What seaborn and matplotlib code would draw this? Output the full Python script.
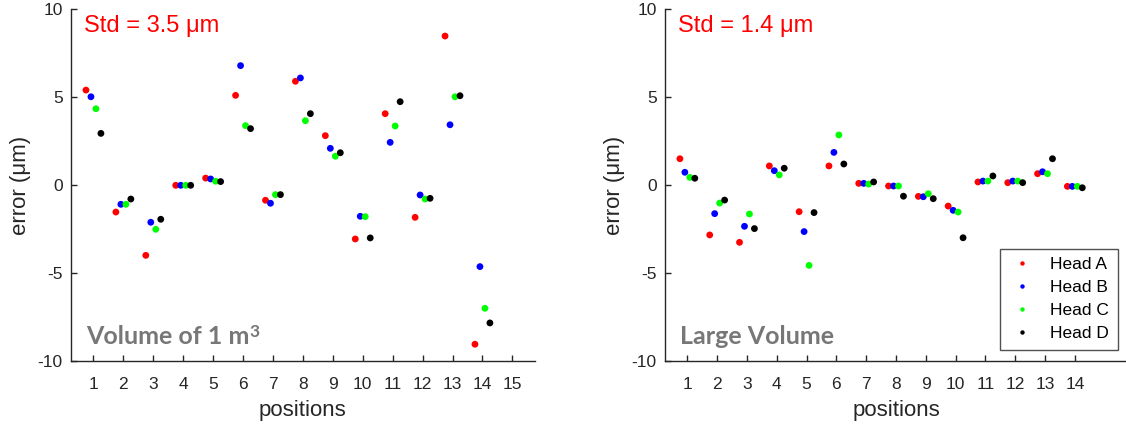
import numpy as np
import pandas as pd
import matplotlib
matplotlib.use("Agg")
import matplotlib.pyplot as plt
import seaborn as sns

# ---------------- data ----------------
heads = ["Head A", "Head B", "Head C", "Head D"]
head_colors = ["#FF0000", "#0000FF", "#00FF00", "#000000"]

positions_left = list(range(1, 15))
left_A = [5.41, -1.52, -3.98, 0.0, 0.41, 5.11, -0.85, 5.91, 2.82, -3.05, 4.07, -1.82, 8.48, -9.03]
left_B = [5.03, -1.08, -2.10, 0.0, 0.36, 6.80, -1.02, 6.10, 2.10, -1.76, 2.44, -0.55, 3.44, -4.62]
left_C = [4.35, -1.08, -2.50, 0.0, 0.23, 3.39, -0.53, 3.67, 1.65, -1.78, 3.37, -0.78, 5.03, -6.99]
left_D = [2.95, -0.78, -1.93, 0.0, 0.21, 3.22, -0.53, 4.07, 1.85, -2.99, 4.75, -0.74, 5.09, -7.82]

positions_right = list(range(1, 15))
right_A = [1.51, -2.82, -3.24, 1.10, -1.50, 1.10, 0.11, -0.04, -0.63, -1.18, 0.19, 0.15, 0.66, -0.06]
right_B = [0.74, -1.61, -2.33, 0.83, -2.63, 1.87, 0.11, -0.04, -0.65, -1.42, 0.24, 0.24, 0.77, -0.06]
right_C = [0.45, -1.01, -1.63, 0.59, -4.55, 2.86, 0.07, -0.04, -0.48, -1.52, 0.24, 0.24, 0.66, -0.06]
right_D = [0.40, -0.84, -2.46, 0.97, -1.55, 1.21, 0.19, -0.62, -0.76, -2.98, 0.53, 0.15, 1.51, -0.14]

left_ticks = list(range(1, 16))
right_ticks = list(range(1, 15))
y_ticks = [-10, -5, 0, 5, 10]

left_std = "Std = 3.5 μm"
right_std = "Std = 1.4 μm"
left_title = ("Volume of 1 m", "3")
right_title = ("Large Volume", "")

# ---------------- layout / style ----------------
dodge = [-0.25, -0.0833, 0.0833, 0.25]
dark = "#262626"
title_gray = "#777777"


def long_frame(pos, series):
    rows = []
    for h, vals, off in zip(heads, series, dodge):
        for p, v in zip(pos, vals):
            rows.append({"pos": p + off, "error": v, "head": h})
    return pd.DataFrame(rows)


sns.set_theme(style="white")
plt.rcParams["font.family"] = ["Liberation Sans", "DejaVu Sans"]
plt.rcParams["axes.edgecolor"] = dark
plt.rcParams["axes.linewidth"] = 1.0

fig = plt.figure(figsize=(11.26, 4.28), dpi=100)
axL = fig.add_axes([71 / 1126, 1 - 361.3 / 428, 463.8 / 1126, 352 / 428])
axR = fig.add_axes([665 / 1126, 1 - 361.3 / 428, 462 / 1126, 352 / 428])

df_left = long_frame(positions_left, [left_A, left_B, left_C, left_D])
df_right = long_frame(positions_right, [right_A, right_B, right_C, right_D])

for ax, df, ticks, std, title in [
    (axL, df_left, left_ticks, left_std, left_title),
    (axR, df_right, right_ticks, right_std, right_title),
]:
    sns.scatterplot(data=df, x="pos", y="error", hue="head", hue_order=heads,
                    palette=head_colors, s=24, linewidth=0, ax=ax,
                    legend=(ax is axR))
    ax.set_xlim(0.25, 15.75)
    ax.set_ylim(-10, 10)
    ax.set_xticks(ticks)
    ax.set_yticks(y_ticks)
    ax.set_xticklabels([str(t) for t in ticks])
    ax.set_yticklabels([str(t) for t in y_ticks])
    ax.tick_params(axis="both", direction="in", length=4, width=1,
                   colors=dark, labelsize=12.5, labelcolor=dark,
                   bottom=True, left=True, top=False, right=False)
    ax.tick_params(axis="x", pad=11)
    ax.tick_params(axis="y", pad=6)
    for side in ["top", "right"]:
        ax.spines[side].set_visible(False)
    ax.spines["left"].set_color(dark)
    ax.spines["bottom"].set_color(dark)
    ax.set_xlabel("positions", fontsize=16, color=dark, labelpad=6)
    ax.set_ylabel("error (μm)", fontsize=16, color=dark, labelpad=5)
    ax.text(0.028, 0.985, std, transform=ax.transAxes, color="#FF0000",
            fontsize=17, ha="left", va="top")
    main, sup = title
    t = ax.text(0.033, 0.07, main, transform=ax.transAxes, color=title_gray,
                fontsize=18, fontweight="bold", family=["Lato", "DejaVu Sans"],
                ha="left", va="center")
    if sup:
        ax.annotate(sup, xy=(1.0, 1.0), xycoords=t, xytext=(-0.5, 0.5),
                    textcoords="offset points", color=title_gray,
                    fontsize=12.5, fontweight="bold",
                    family=["Lato", "DejaVu Sans"], ha="left", va="top")

handles, labels = axR.get_legend_handles_labels()
leg = axR.legend(handles, labels, loc="lower right", bbox_to_anchor=(0.98, 0.032),
                 borderaxespad=0, frameon=True, fancybox=False, fontsize=12.5,
                 markerscale=0.65, handletextpad=0.8, labelspacing=0.45,
                 borderpad=0.5, handlelength=1.6)
leg.get_frame().set_edgecolor(dark)
leg.get_frame().set_linewidth(1.0)
for txt in leg.get_texts():
    txt.set_color("#000000")

fig.savefig("out.png", dpi=100)
